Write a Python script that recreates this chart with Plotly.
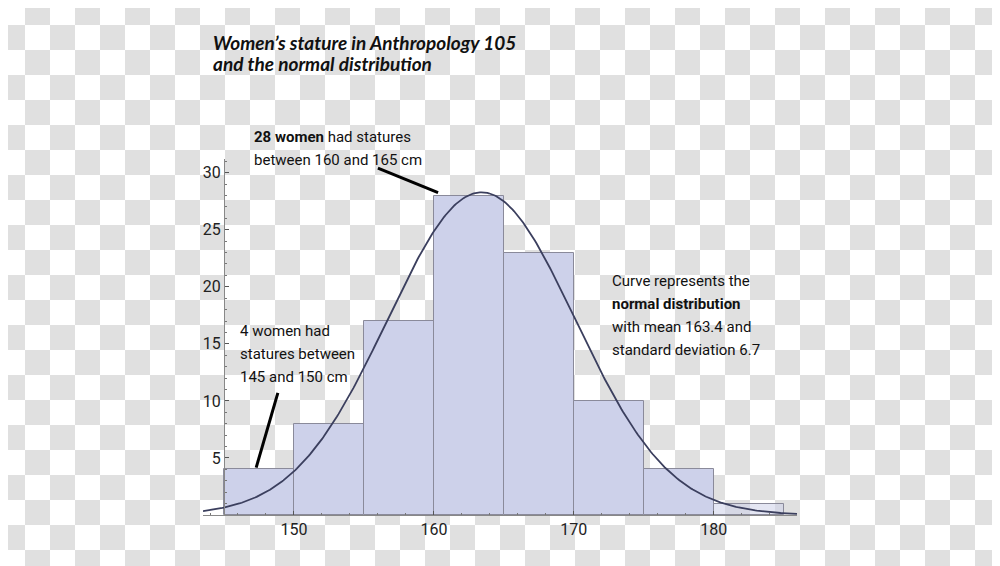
import base64
import numpy as np
import plotly.graph_objects as go

# ---- data ----
bin_starts = [145, 150, 155, 160, 165, 170, 175, 180]
bin_width = 5
counts = [4, 8, 17, 28, 23, 10, 4, 1]
mean = 163.4
sd = 6.7
x_tick_vals = [150, 160, 170, 180]
y_tick_vals = [5, 10, 15, 20, 25, 30]

W, H = 1000, 566
OFF = 8  # page body margin
# desired plot area in page pixels
PX0, PX1, PY0, PY1 = 203, 797, 159, 515
L = PX0 - OFF
R = W - (PX1 - OFF)
T = PY0 - OFF
B = H - (PY1 - OFF)
x_range = [143.5, 185.95]
y_range = [0, 31.2]
pw = W - L - R
ph = H - T - B


def px(x):
    return (x - OFF - L) / pw


def py(y):
    return 1 - (y - OFF - T) / ph


n_total = sum(counts)
xs = np.linspace(x_range[0], x_range[1], 400)
ys = n_total * bin_width / (sd * np.sqrt(2 * np.pi)) * np.exp(-0.5 * ((xs - mean) / sd) ** 2)

fig = go.Figure()

# checkerboard background (transparency pattern in reference)
svg = ('<svg xmlns="http://www.w3.org/2000/svg" width="%d" height="%d">'
       '<defs><pattern id="p" x="-%d" y="-%d" width="50" height="50" patternUnits="userSpaceOnUse">'
       '<rect width="50" height="50" fill="#ffffff"/>'
       '<rect x="25" y="0" width="25" height="25" fill="#e0e0e0"/>'
       '<rect x="0" y="25" width="25" height="25" fill="#e0e0e0"/>'
       '</pattern></defs><rect width="100%%" height="100%%" fill="url(#p)"/></svg>') % (W, H, OFF, OFF)
src = "data:image/svg+xml;base64," + base64.b64encode(svg.encode()).decode()
fig.add_layout_image(dict(source=src, xref="paper", yref="paper",
                          x=-L / pw, y=1 + T / ph, sizex=W / pw, sizey=H / ph,
                          xanchor="left", yanchor="top", sizing="stretch", layer="below"))

colors = ["#cdd1ea"] * (len(counts) - 1) + ["rgba(205,209,234,0.55)"]
fig.add_trace(go.Bar(
    x=[s + bin_width / 2 for s in bin_starts], y=counts, width=bin_width,
    marker=dict(color=colors, line=dict(color="#8a8a9a", width=1)),
    hoverinfo="skip", showlegend=False))

fig.add_trace(go.Scatter(x=xs, y=ys, mode="lines",
                         line=dict(color="#3b3f5e", width=1.8),
                         hoverinfo="skip", showlegend=False))

narrow = "Roboto, sans-serif"

# pointer lines
fig.add_shape(type="line", x0=156.0, y0=30.4, x1=160.3, y1=28.25,
              line=dict(color="#000000", width=3), xref="x", yref="y")
fig.add_shape(type="line", x0=148.85, y0=10.7, x1=147.3, y1=4.15,
              line=dict(color="#000000", width=3), xref="x", yref="y")


def ann(xpix, ypix, lines):
    for i, t in enumerate(lines):
        fig.add_annotation(x=px(xpix), y=py(ypix + 23 * i), xref="paper", yref="paper",
                           text=t, showarrow=False, xanchor="left", yanchor="middle",
                           align="left", font=dict(family=narrow, size=15, color="#111111"))


ann(252, 137, ["<b>28 women</b> had statures", "between 160 and 165 cm"])
ann(238, 331, ["4 women had", "statures between", "145 and 150 cm"])
ann(610, 281, ["Curve represents the", "<b>normal distribution</b>",
               "with mean 163.4 and", "standard deviation 6.7"])

for i, t in enumerate(["Women’s stature in Anthropology 105", "and the normal distribution"]):
    fig.add_annotation(x=px(211), y=py(42 + 21.5 * i), xref="paper", yref="paper",
                       text="<b><i>%s</i></b>" % t, showarrow=False,
                       xanchor="left", yanchor="middle", align="left",
                       font=dict(family="Lato, sans-serif", size=19, color="#111111"))

fig.update_layout(
    width=W, height=H,
    margin=dict(l=L, r=R, t=T, b=B, pad=0),
    paper_bgcolor="rgba(0,0,0,0)", plot_bgcolor="rgba(0,0,0,0)",
    bargap=0,
    xaxis=dict(range=x_range, showgrid=False, zeroline=False,
               showline=True, linecolor="#888888", linewidth=1,
               tickvals=x_tick_vals, ticks="inside", ticklen=4, tickcolor="#555555",
               minor=dict(dtick=2, ticks="inside", ticklen=2, tickcolor="#777777"),
               tickfont=dict(family=narrow, size=16, color="#222222"),
               anchor="y", fixedrange=True),
    yaxis=dict(range=y_range, showgrid=False, zeroline=False,
               showline=True, linecolor="#888888", linewidth=1,
               anchor="free", position=(145 - x_range[0]) / (x_range[1] - x_range[0]),
               tickvals=y_tick_vals, ticks="inside", ticklen=4, tickcolor="#555555",
               minor=dict(dtick=1, ticks="inside", ticklen=2, tickcolor="#777777"),
               tickfont=dict(family=narrow, size=16, color="#222222"),
               fixedrange=True),
)

fig.write_html("out.html")
